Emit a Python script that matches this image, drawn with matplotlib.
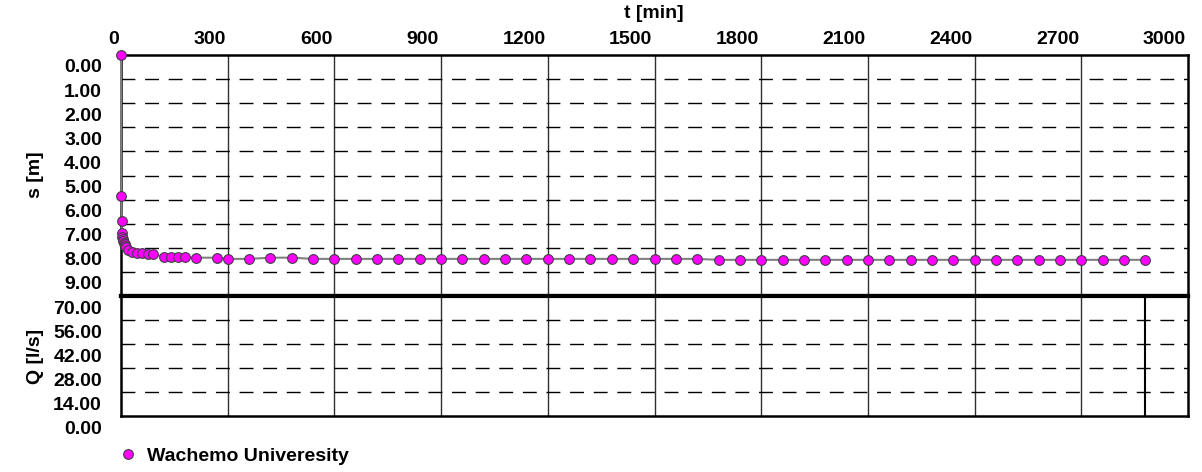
import matplotlib
matplotlib.use("Agg")
import matplotlib.pyplot as plt
from matplotlib.transforms import offset_copy
from matplotlib.lines import Line2D

plt.rcParams['font.family'] = ['Liberation Sans', 'DejaVu Sans']
plt.rcParams['font.weight'] = 'bold'

# pumping test: drawdown s [m] against time t [min]
t_min = [0, 1, 2, 3, 4, 5, 6, 8, 10, 12, 15, 20, 30, 45, 60, 75, 90,
         120, 140, 160, 180, 210, 270, 300, 360, 420, 480, 540, 600,
         660, 720, 780, 840, 900, 960, 1020, 1080, 1140, 1200, 1260,
         1320, 1380, 1440, 1500, 1560, 1620, 1680, 1740, 1800, 1860,
         1920, 1980, 2040, 2100, 2160, 2220, 2280, 2340, 2400, 2460,
         2520, 2580, 2640, 2700, 2760, 2820, 2880]
s_m = [0.00, 5.84, 6.88, 7.39, 7.55, 7.65, 7.72, 7.80, 7.86, 7.92, 7.98,
       8.09, 8.16, 8.20, 8.23, 8.27, 8.27, 8.37, 8.37, 8.39, 8.39, 8.41,
       8.41, 8.46, 8.46, 8.41, 8.41, 8.46, 8.46, 8.46, 8.46, 8.46, 8.46,
       8.46, 8.46, 8.46, 8.46, 8.46, 8.46, 8.46, 8.46, 8.46, 8.46, 8.46,
       8.46, 8.46, 8.50, 8.50, 8.50, 8.50, 8.50, 8.50, 8.50, 8.50, 8.50,
       8.50, 8.50, 8.50, 8.50, 8.50, 8.50, 8.50, 8.50, 8.50, 8.50, 8.50,
       8.50]

# discharge Q [l/s]
t_q = [0, 2880, 2880]
q_ls = [70, 70, 0]

x_ticks = list(range(0, 3001, 300))
s_ticks = list(range(0, 10))
q_ticks = [70, 56, 42, 28, 14, 0]
series_name = "Wachemo Univeresity"

FS = 14
fig = plt.figure(figsize=(12.02, 4.72), dpi=100)
left, width = 121 / 1202, 1067 / 1202
ax_s = fig.add_axes([left, 1 - 296 / 472, width, 241 / 472])
ax_q = fig.add_axes([left, 1 - 416 / 472, width, 120 / 472])

for ax in (ax_s, ax_q):
    ax.set_xlim(0, 3000)
    ax.set_xticks(x_ticks[1:-1])
    ax.set_xticklabels([])
    ax.tick_params(length=0, labelleft=False, labelbottom=False)
    ax.grid(axis='x', color='#303030', lw=1.0)
    for sp in ax.spines.values():
        sp.set_linewidth(1.8)
        sp.set_color('black')

ax_s.set_ylim(10, 0)
ax_s.set_yticks(range(1, 10))
ax_s.grid(axis='y', color='black', lw=1.0, linestyle=(0, (10, 7)))
ax_s.spines['bottom'].set_linewidth(3)

ax_q.set_ylim(0, 70)
ax_q.set_yticks([14, 28, 42, 56])
ax_q.grid(axis='y', color='black', lw=1.0, linestyle=(0, (10, 7)))
ax_q.spines['top'].set_linewidth(3)

# drawdown curve
ax_s.plot(t_min, s_m, color='#808080', lw=1.5, zorder=3, clip_on=False)
ax_s.plot(t_min, s_m, ls='none', marker='o', ms=7, mfc='#ff00ff',
          mec='#404040', mew=0.8, zorder=4, clip_on=False)

# discharge
ax_q.plot(t_q, q_ls, color='black', lw=1.5, zorder=3)

# tick labels sit half a division below / left of the lines
tr = offset_copy(ax_s.get_xaxis_transform(), fig=fig, x=-2, y=7, units='dots')
for v in x_ticks:
    ax_s.text(v, 1, str(v), transform=tr, ha='right', va='bottom',
              fontsize=FS, fontweight='bold', clip_on=False)

tr = offset_copy(ax_s.get_yaxis_transform(), fig=fig, x=-19, y=-13, units='dots')
for v in s_ticks:
    ax_s.text(0, v, f"{v:.2f}", transform=tr, ha='right', va='center',
              fontsize=FS, fontweight='bold', clip_on=False)

tr = offset_copy(ax_q.get_yaxis_transform(), fig=fig, x=-19, y=-13, units='dots')
for v in q_ticks:
    ax_q.text(0, v, f"{v:.2f}", transform=tr, ha='right', va='center',
              fontsize=FS, fontweight='bold', clip_on=False)

fig.text(654 / 1202, 1 - 13 / 472, "t [min]", ha='center', va='center',
         fontsize=FS, fontweight='bold')
fig.text(35 / 1202, 1 - 175 / 472, "s [m]", ha='center', va='center',
         rotation=90, fontsize=FS, fontweight='bold')
fig.text(35 / 1202, 1 - 356 / 472, "Q [l/s]", ha='center', va='center',
         rotation=90, fontsize=FS, fontweight='bold')

# legend
handle = Line2D([], [], ls='none', marker='o', ms=7, mfc='#ff00ff',
                mec='#404040', mew=0.8)
fig.legend([handle], [series_name], loc='center left',
           bbox_to_anchor=(112 / 1202, 1 - 456 / 472), frameon=False,
           handlelength=0.8, handletextpad=0.6, borderaxespad=0,
           prop={'size': FS, 'weight': 'bold'})

fig.savefig("out.png", dpi=100)
